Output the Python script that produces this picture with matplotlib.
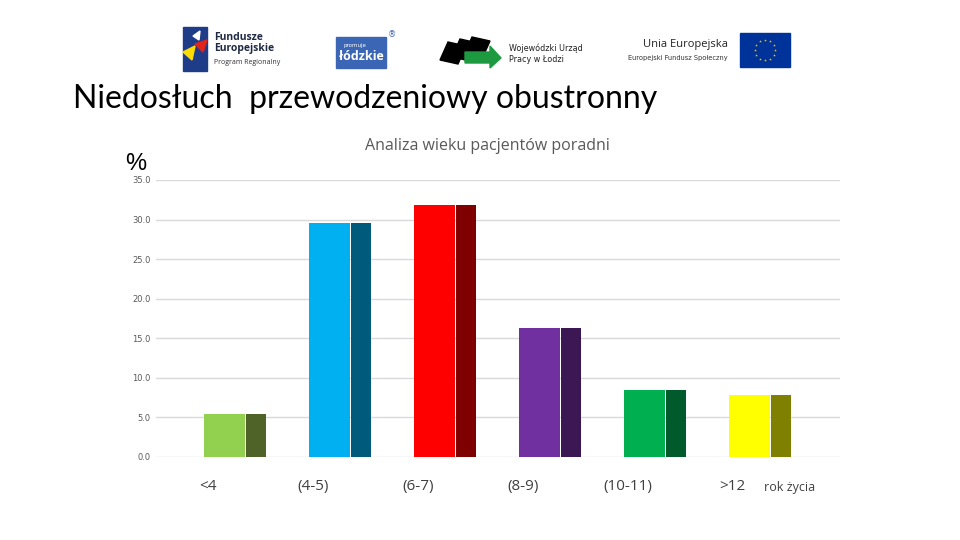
import numpy as np
import matplotlib
matplotlib.use('Agg')
import matplotlib.pyplot as plt
from matplotlib.patches import Rectangle, Polygon

# Data
categories = ['<4', '(4-5)', '(6-7)', '(8-9)', '(10-11)', '>12']
values = [5.4, 29.6, 31.9, 16.3, 8.5, 7.8]
main_colors = ['#92d050', '#00b0f0', '#ff0000', '#7030a0', '#00b050', '#ffff00']
side_colors = ['#4f6228', '#005a7c', '#7f0000', '#3b1754', '#005a2b', '#808000']
y_ticks = [0, 5, 10, 15, 20, 25, 30, 35]

W, H = 960, 540
fig = plt.figure(figsize=(9.6, 5.4), dpi=100)
fig.patch.set_facecolor('white')

def px(x, y):
    return x / W, 1 - y / H

# ---- logos strip (rough approximations) ----
ov = fig.add_axes([0, 0, 1, 1])
ov.set_xlim(0, W)
ov.set_ylim(H, 0)
ov.axis('off')

# Fundusze Europejskie
ov.add_patch(Rectangle((183, 27), 24, 44, color='#1f3c88'))
ov.add_patch(Polygon([[183, 52], [195, 46], [192, 60]], color='#ffdd00'))
ov.add_patch(Polygon([[195, 44], [207, 40], [203, 52]], color='#e2231a'))
ov.add_patch(Polygon([[193, 36], [200, 31], [199, 40]], color='white'))
ov.text(214, 37, 'Fundusze', fontsize=7.5, fontweight='bold', color='#1f2a44', va='center', family='Open Sans')
ov.text(214, 49, 'Europejskie', fontsize=7.5, fontweight='bold', color='#1f2a44', va='center', family='Open Sans')
ov.text(214, 63, 'Program Regionalny', fontsize=5, color='#333333', va='center', family='Open Sans')

# lodzkie
ov.add_patch(Rectangle((336, 37), 50, 31, color='#3a66b5'))
ov.text(343, 46, 'promuje', fontsize=4, color='white', va='center')
ov.text(361, 57, 'łódzkie', fontsize=9, fontweight='bold', color='white', va='center', ha='center', family='Open Sans')
ov.text(392, 35, '®', fontsize=6, color='#3a66b5', va='center', ha='center')

# WUP
for dx, dy in [(0, 0), (12, -3), (24, -5)]:
    ov.add_patch(Polygon([[440 + dx, 60 + dy], [448 + dx, 42 + dy], [466 + dx, 46 + dy], [458 + dx, 64 + dy]], color='black'))
ov.add_patch(Polygon([[465, 52], [490, 52], [490, 46], [501, 58], [490, 68], [490, 63], [465, 63]], color='#1d9a3f'))
ov.text(509, 48, 'Wojewódzki Urząd', fontsize=5.8, color='#222222', va='center')
ov.text(509, 59, 'Pracy w Łodzi', fontsize=5.8, color='#222222', va='center')

# Unia Europejska
ov.text(728, 45, 'Unia Europejska', fontsize=8, color='#222222', va='center', ha='right', family='Open Sans')
ov.text(728, 58, 'Europejski Fundusz Społeczny', fontsize=4.8, color='#333333', va='center', ha='right')
ov.add_patch(Rectangle((740, 33), 50, 34, color='#003399'))
ang = np.linspace(0, 2 * np.pi, 13)[:-1]
ov.scatter(765 + 10 * np.cos(ang), 50 + 10 * np.sin(ang), marker='*', s=4, color='#ffcc00', linewidths=0)

# headline
ov.text(73, 99, 'Niedosłuch  przewodzeniowy obustronny', fontsize=23, color='black',
        va='center', ha='left', family='Lato')
ov.text(125, 164, '%', fontsize=17, color='black', va='center', ha='left', family='Liberation Sans')
ov.text(487, 146, 'Analiza wieku pacjentów poradni', fontsize=11.5, color='#595959',
        va='center', ha='center', family='Open Sans')

# ---- chart ----
left, top = px(156, 180)
right, bottom = px(840, 457)
ax = fig.add_axes([left, bottom, right - left, top - bottom])
x = np.arange(len(categories))
ax.bar(x - 0.1, values, width=0.39, color=main_colors, zorder=3)
ax.bar(x + 0.2, values, width=0.19, color=side_colors, zorder=3)

ax.set_xlim(-0.752, 5.762)
ax.set_ylim(0, 35)
ax.set_yticks(y_ticks)
ax.set_yticklabels([f'{v:.1f}' for v in y_ticks], fontsize=6, color='#595959')
ax.tick_params(axis='y', length=0, pad=4)
ax.grid(axis='y', color='#d9d9d9', linewidth=1, zorder=0)
for s in ax.spines.values():
    s.set_visible(False)
ax.set_xticks(x - 0.26)
ax.set_xticklabels(categories, fontsize=11, color='#404040', family='Open Sans')
ax.tick_params(axis='x', length=0, pad=16)

ov.text(790, 487, 'rok życia', fontsize=9, color='#404040', va='center', ha='center', family='Open Sans')
ov.set_zorder(-1)

fig.savefig('out.png', dpi=100, facecolor='white')
